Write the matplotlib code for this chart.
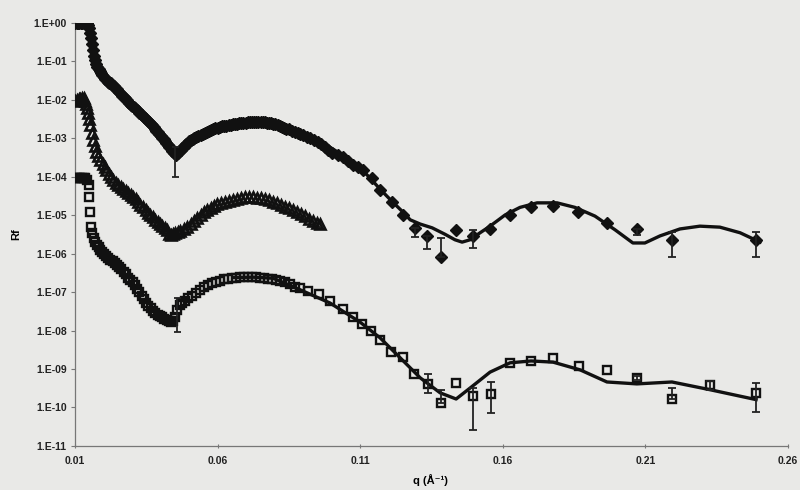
import numpy as np
import matplotlib
matplotlib.use("Agg")
import matplotlib.pyplot as plt
from matplotlib.ticker import FixedLocator, FuncFormatter

# top sample (filled diamonds)
q_top = [0.0100, 0.0105, 0.0110, 0.0115, 0.0120, 0.0125, 0.0130, 0.0135, 0.0140, 0.0144,
         0.0148, 0.0152, 0.0155, 0.0158, 0.0162, 0.0166, 0.0170, 0.0174, 0.0178, 0.0182,
         0.0186, 0.0190, 0.0195, 0.0200, 0.0205, 0.0210, 0.0215, 0.0220, 0.0225, 0.0230,
         0.0235, 0.0240, 0.0245, 0.0250, 0.0255, 0.0260, 0.0265, 0.0270, 0.0275, 0.0280,
         0.0285, 0.0290, 0.0295, 0.0300, 0.0305, 0.0310, 0.0315, 0.0320, 0.0325, 0.0330,
         0.0335, 0.0340, 0.0345, 0.0350, 0.0355, 0.0360, 0.0365, 0.0370, 0.0375, 0.0380,
         0.0385, 0.0390, 0.0395, 0.0400, 0.0405, 0.0410, 0.0415, 0.0420, 0.0425, 0.0430,
         0.0435, 0.0440, 0.0445, 0.0452, 0.0460, 0.0465, 0.0470, 0.0475, 0.0480, 0.0485,
         0.0490, 0.0495, 0.0500, 0.0506, 0.0512, 0.0518, 0.0525, 0.0532, 0.0540, 0.0548,
         0.0555, 0.0562, 0.0570, 0.0578, 0.0585, 0.0592, 0.0600, 0.0608, 0.0615, 0.0622,
         0.0630, 0.0638, 0.0645, 0.0652, 0.0660, 0.0668, 0.0675, 0.0682, 0.0690, 0.0698,
         0.0705, 0.0712, 0.0720, 0.0728, 0.0735, 0.0742, 0.0750, 0.0758, 0.0765, 0.0772,
         0.0780, 0.0788, 0.0795, 0.0802, 0.0810, 0.0818, 0.0825, 0.0833, 0.0840, 0.0850,
         0.0860, 0.0870, 0.0880, 0.0890, 0.0900, 0.0912, 0.0924, 0.0937, 0.0950, 0.0962,
         0.0975, 0.0988, 0.1001, 0.1020, 0.1040, 0.1058, 0.1075, 0.1092, 0.1110, 0.1141,
         0.1169, 0.1211, 0.1250,
         0.1292, 0.1334, 0.1383, 0.1436, 0.1495, 0.1555, 0.1625, 0.1699, 0.1776, 0.1864,
         0.1965, 0.2070, 0.2193, 0.2488]
r_top = [1.0, 1.0, 1.0, 1.0, 1.0, 1.0, 1.0, 1.0, 0.98, 0.90,
         0.75, 0.55, 0.40, 0.28, 0.20, 0.14, 0.11, 0.085, 0.070, 0.062,
         0.055, 0.050, 0.045, 0.040, 0.036, 0.033, 0.030, 0.028, 0.027, 0.025,
         0.023, 0.021, 0.019, 0.0175, 0.016, 0.0145, 0.013, 0.012, 0.011, 0.0100,
         9.0e-3, 8.2e-3, 7.4e-3, 6.9e-3, 6.5e-3, 6.0e-3, 5.5e-3, 5.1e-3, 4.7e-3, 4.4e-3,
         4.1e-3, 3.7e-3, 3.4e-3, 3.1e-3, 2.8e-3, 2.6e-3, 2.4e-3, 2.2e-3, 2.0e-3, 1.8e-3,
         1.6e-3, 1.45e-3, 1.3e-3, 1.17e-3, 1.05e-3, 9.5e-4, 8.5e-4, 7.6e-4, 6.8e-4, 6.1e-4,
         5.5e-4, 4.8e-4, 4.2e-4, 3.7e-4, 4.2e-4, 4.6e-4, 5.0e-4, 5.5e-4, 6.0e-4, 6.6e-4,
         7.2e-4, 7.8e-4, 8.5e-4, 9.2e-4, 9.8e-4, 1.04e-3, 1.10e-3, 1.17e-3, 1.25e-3, 1.33e-3,
         1.42e-3, 1.50e-3, 1.60e-3, 1.68e-3, 1.75e-3, 1.82e-3, 1.90e-3, 1.98e-3, 2.05e-3, 2.10e-3,
         2.15e-3, 2.20e-3, 2.25e-3, 2.30e-3, 2.35e-3, 2.40e-3, 2.45e-3, 2.50e-3, 2.55e-3, 2.58e-3,
         2.62e-3, 2.65e-3, 2.68e-3, 2.68e-3, 2.68e-3, 2.67e-3, 2.65e-3, 2.63e-3, 2.60e-3, 2.56e-3,
         2.52e-3, 2.46e-3, 2.40e-3, 2.31e-3, 2.22e-3, 2.11e-3, 2.00e-3, 1.90e-3, 1.80e-3, 1.70e-3,
         1.60e-3, 1.50e-3, 1.40e-3, 1.30e-3, 1.20e-3, 1.11e-3, 1.02e-3, 9.1e-4, 8.0e-4, 7.0e-4,
         6.0e-4, 5.1e-4, 4.2e-4, 3.8e-4, 3.3e-4, 2.6e-4, 2.0e-4, 1.75e-4, 1.5e-4, 9.3e-5,
         4.6e-5, 2.2e-5, 1.02e-5,
         4.7e-6, 2.9e-6, 8.1e-7, 4.2e-6, 2.9e-6, 4.4e-6, 1.02e-5, 1.6e-5, 1.74e-5, 1.2e-5,
         6.3e-6, 4.4e-6, 2.3e-6, 2.3e-6]
# error bars on the top sample: q, lower end, upper end
eq_top = [0.0451, 0.1292, 0.1334, 0.1383, 0.1495, 0.2070, 0.2193, 0.2488]
elo_top = [1.0e-4, 2.7e-6, 1.3e-6, 8.1e-7, 1.4e-6, 3.1e-6, 8.1e-7, 8.1e-7]
ehi_top = [6.0e-4, 4.7e-6, 2.9e-6, 2.6e-6, 4.2e-6, 4.4e-6, 3.6e-6, 3.6e-6]
# top fit
qf_top = [0.0750, 0.0800, 0.0850, 0.0900, 0.0950, 0.1000, 0.1050, 0.1100, 0.1134, 0.1169,
          0.1211, 0.1250, 0.1275, 0.1310, 0.1352, 0.1397, 0.1432, 0.1457, 0.1485, 0.1520,
          0.1555, 0.1608, 0.1660, 0.1720, 0.1790, 0.1853, 0.1923, 0.1993, 0.2056, 0.2098,
          0.2151, 0.2221, 0.2291, 0.2361, 0.2432, 0.2502]
rf_top = [2.6e-3, 2.1e-3, 1.66e-3, 1.2e-3, 8.5e-4, 5.5e-4, 3.2e-4, 1.7e-4, 9.3e-5, 4.8e-5,
          2.3e-5, 1.2e-5, 7.6e-6, 5.9e-6, 4.7e-6, 3.2e-6, 2.3e-6, 2.0e-6, 2.3e-6, 3.5e-6,
          5.2e-6, 1.02e-5, 1.6e-5, 2.1e-5, 2.1e-5, 1.6e-5, 9.5e-6, 4.2e-6, 1.9e-6, 1.9e-6,
          2.9e-6, 4.4e-6, 5.2e-6, 4.9e-6, 3.5e-6, 2.0e-6]

# middle sample (open triangles)
q_mid = [0.0100, 0.0106, 0.0112, 0.0118, 0.0124, 0.0130, 0.0135, 0.0139, 0.0143, 0.0146,
         0.0150, 0.0153, 0.0158, 0.0163, 0.0168, 0.0174, 0.0181, 0.0188, 0.0196, 0.0203,
         0.0209, 0.0217, 0.0225, 0.0233, 0.0242, 0.0251, 0.0260, 0.0268, 0.0277, 0.0286,
         0.0295, 0.0303, 0.0312, 0.0320, 0.0329, 0.0338, 0.0347, 0.0356, 0.0364, 0.0373,
         0.0381, 0.0390, 0.0398, 0.0406, 0.0414, 0.0423, 0.0430, 0.0437, 0.0444, 0.0451,
         0.0459, 0.0468, 0.0480, 0.0493, 0.0505, 0.0516, 0.0528, 0.0540, 0.0552, 0.0563,
         0.0575, 0.0587, 0.0598, 0.0612, 0.0626, 0.0640, 0.0654, 0.0668, 0.0682, 0.0696,
         0.0710, 0.0724, 0.0738, 0.0752, 0.0766, 0.0780, 0.0794, 0.0808, 0.0822, 0.0836,
         0.0850, 0.0864, 0.0878, 0.0892, 0.0906, 0.0920, 0.0934, 0.0948, 0.0959]
r_mid = [9.3e-3, 1.0e-2, 1.05e-2, 1.08e-2, 1.1e-2, 1.1e-2, 9.5e-3, 7.8e-3, 6.0e-3, 4.6e-3,
         3.2e-3, 2.2e-3, 1.4e-3, 9.1e-4, 6.3e-4, 4.5e-4, 3.5e-4, 2.8e-4, 2.2e-4, 1.8e-4,
         1.5e-4, 1.2e-4, 1.0e-4, 8.3e-5, 7.0e-5, 6.1e-5, 5.4e-5, 4.8e-5, 4.2e-5, 3.7e-5,
         3.3e-5, 3.0e-5, 2.6e-5, 2.2e-5, 1.9e-5, 1.6e-5, 1.35e-5, 1.15e-5, 1.0e-5, 8.9e-6,
         7.6e-6, 6.6e-6, 5.9e-6, 5.1e-6, 4.6e-6, 4.2e-6, 3.3e-6, 3.1e-6, 3.2e-6, 3.5e-6,
         3.7e-6, 3.9e-6, 4.3e-6, 4.9e-6, 5.8e-6, 7.0e-6, 8.5e-6, 1.0e-5, 1.2e-5, 1.38e-5,
         1.55e-5, 1.75e-5, 1.95e-5, 2.1e-5, 2.25e-5, 2.4e-5, 2.5e-5, 2.7e-5, 2.85e-5, 2.95e-5,
         3.0e-5, 2.95e-5, 2.85e-5, 2.75e-5, 2.6e-5, 2.45e-5, 2.25e-5, 2.05e-5, 1.85e-5, 1.65e-5,
         1.5e-5, 1.35e-5, 1.2e-5, 1.1e-5, 9.5e-6, 8.0e-6, 7.0e-6, 6.4e-6, 5.9e-6]

# bottom sample (open squares)
q_bot = [0.0100, 0.0106, 0.0112, 0.0118, 0.0124, 0.0130, 0.0136, 0.0142, 0.0147, 0.0150,
         0.0153, 0.0156, 0.0160, 0.0165, 0.0170, 0.0176, 0.0182, 0.0188, 0.0195, 0.0202,
         0.0209, 0.0216, 0.0223, 0.0231, 0.0239, 0.0247, 0.0255, 0.0262, 0.0270, 0.0278,
         0.0286, 0.0293, 0.0301, 0.0309, 0.0317, 0.0325, 0.0333, 0.0341, 0.0349, 0.0357,
         0.0365, 0.0373, 0.0381, 0.0389, 0.0397, 0.0405, 0.0413, 0.0421, 0.0428, 0.0435,
         0.0442, 0.0450, 0.0458, 0.0466, 0.0475, 0.0486, 0.0497, 0.0510, 0.0524, 0.0538,
         0.0552, 0.0566, 0.0580, 0.0594, 0.0608, 0.0622, 0.0636, 0.0650, 0.0664, 0.0678,
         0.0692, 0.0706, 0.0720, 0.0734, 0.0748, 0.0762, 0.0776, 0.0790, 0.0804, 0.0819,
         0.0836, 0.0854, 0.0871, 0.0889, 0.0917, 0.0955, 0.0994, 0.1039, 0.1074, 0.1106,
         0.1138, 0.1169, 0.1208, 0.1250, 0.1289, 0.1338, 0.1383, 0.1436, 0.1495, 0.1559,
         0.1625, 0.1699, 0.1776, 0.1867, 0.1965, 0.2070, 0.2193, 0.2326, 0.2488]
r_bot = [9.5e-5, 9.5e-5, 9.5e-5, 9.5e-5, 9.5e-5, 9.5e-5, 9.3e-5, 8.5e-5, 6.0e-5, 3.0e-5,
         1.2e-5, 5.0e-6, 3.5e-6, 2.5e-6, 2.0e-6, 1.7e-6, 1.45e-6, 1.26e-6, 1.1e-6, 9.6e-7,
         8.5e-7, 7.6e-7, 7.0e-7, 6.3e-7, 5.6e-7, 5.0e-7, 4.4e-7, 3.9e-7, 3.4e-7, 2.9e-7,
         2.4e-7, 2.1e-7, 1.8e-7, 1.5e-7, 1.2e-7, 1.0e-7, 8.0e-8, 6.5e-8, 5.3e-8, 4.4e-8,
         3.8e-8, 3.3e-8, 2.9e-8, 2.6e-8, 2.35e-8, 2.2e-8, 2.0e-8, 1.9e-8, 1.75e-8, 1.66e-8,
         1.8e-8, 2.3e-8, 3.5e-8, 4.5e-8, 5.2e-8, 6.0e-8, 7.0e-8, 7.9e-8, 9.5e-8, 1.15e-7,
         1.35e-7, 1.55e-7, 1.7e-7, 1.85e-7, 2.0e-7, 2.15e-7, 2.25e-7, 2.35e-7, 2.4e-7, 2.45e-7,
         2.45e-7, 2.45e-7, 2.45e-7, 2.42e-7, 2.38e-7, 2.32e-7, 2.25e-7, 2.15e-7, 2.05e-7, 1.95e-7,
         1.8e-7, 1.6e-7, 1.4e-7, 1.29e-7, 1.07e-7, 8.9e-8, 5.9e-8, 3.6e-8, 2.2e-8, 1.48e-8,
         9.8e-9, 5.8e-9, 2.75e-9, 2.0e-9, 7.4e-10, 4.1e-10, 1.32e-10, 4.4e-10, 2.0e-10, 2.2e-10,
         1.45e-9, 1.62e-9, 1.95e-9, 1.2e-9, 9.5e-10, 5.9e-10, 1.66e-10, 3.9e-10, 2.4e-10]
eq_bot = [0.0458, 0.1338, 0.1383, 0.1495, 0.1559, 0.2070, 0.2193, 0.2326, 0.2488]
elo_bot = [9.1e-9, 2.4e-10, 1.32e-10, 2.6e-11, 7.2e-11, 5.2e-10, 1.66e-10, 2.8e-10, 7.6e-11]
ehi_bot = [7.1e-8, 7.4e-10, 2.9e-10, 3.3e-10, 4.6e-10, 6.6e-10, 3.3e-10, 4.9e-10, 4.4e-10]
# bottom fit
qf_bot = [0.0654, 0.0724, 0.0794, 0.0889, 0.0994, 0.1099, 0.1169, 0.1240, 0.1310, 0.1380,
          0.1436, 0.1485, 0.1555, 0.1625, 0.1699, 0.1776, 0.1871, 0.1965, 0.2070, 0.2193,
          0.2326, 0.2488]
rf_bot = [2.4e-7, 2.45e-7, 2.3e-7, 1.15e-7, 5.2e-8, 1.66e-8, 6.5e-9, 1.95e-9, 5.9e-10, 2.4e-10,
          1.66e-10, 3.2e-10, 8.3e-10, 1.45e-9, 1.62e-9, 1.51e-9, 9.5e-10, 4.6e-10, 4.1e-10, 4.6e-10,
          2.9e-10, 1.6e-10]

x_ticks = [0.01, 0.06, 0.11, 0.16, 0.21, 0.26]
y_exps = list(range(0, -12, -1))

bg = "#e9e9e7"
plt.rcParams['font.family'] = ['Liberation Sans', 'DejaVu Sans']
fig = plt.figure(figsize=(8, 4.9), dpi=100, facecolor=bg)
ax = fig.add_axes([0.094, 0.09, 0.891, 0.863], facecolor=bg)

ax.plot(qf_top, rf_top, color="#111111", lw=2.4, zorder=2)
ax.plot(qf_bot, rf_bot, color="#111111", lw=2.4, zorder=2)

ax.plot(q_top, r_top, linestyle="none", marker="D", ms=6.5, color="#111111", zorder=3)
ax.plot(q_mid, r_mid, linestyle="none", marker="^", ms=6.5, mfc="none", mec="#111111", mew=1.9, zorder=3)
ax.plot(q_bot, r_bot, linestyle="none", marker="s", ms=5.8, mfc="none", mec="#111111", mew=1.7, zorder=3)

for eq, lo, hi in [(eq_top, elo_top, ehi_top), (eq_bot, elo_bot, ehi_bot)]:
    ax.vlines(eq, lo, hi, color="#222222", lw=1.3, zorder=4)
    ax.hlines(lo, np.array(eq) - 0.0013, np.array(eq) + 0.0013, color="#222222", lw=1.3, zorder=4)
    ax.hlines(hi, np.array(eq) - 0.0013, np.array(eq) + 0.0013, color="#222222", lw=1.3, zorder=4)

ax.set_yscale("log")
ax.set_xlim(0.01, 0.26)
ax.set_ylim(1e-11, 1.0)
ax.xaxis.set_major_locator(FixedLocator(x_ticks))
ax.xaxis.set_major_formatter(FuncFormatter(lambda v, p: f"{v:.2f}"))
ax.yaxis.set_major_locator(FixedLocator([10.0 ** e for e in y_exps]))
ax.yaxis.set_minor_locator(FixedLocator([]))
ax.yaxis.set_major_formatter(FuncFormatter(
    lambda v, p: "1.E" + ("+" if round(np.log10(v)) >= 0 else "-") + f"{abs(round(np.log10(v))):02d}"))

for s in ["top", "right"]:
    ax.spines[s].set_visible(False)
for s in ["left", "bottom"]:
    ax.spines[s].set_color("#777777")
    ax.spines[s].set_linewidth(0.9)
ax.tick_params(axis="both", colors="#777777", length=3, width=0.8, labelcolor="#222222", labelsize=7.5)
ax.tick_params(axis="x", direction="inout", pad=6)
ax.tick_params(axis="y", direction="out", pad=3)
for lab in ax.get_xticklabels() + ax.get_yticklabels():
    lab.set_fontweight("bold")

ax.set_xlabel("q (Å⁻¹)", fontsize=8, fontweight="bold")
ax.xaxis.set_label_coords(0.498, -0.067)
ax.set_ylabel("Rf", fontsize=8, fontweight="bold", labelpad=9)

fig.savefig("out.png", dpi=100, facecolor=bg)
